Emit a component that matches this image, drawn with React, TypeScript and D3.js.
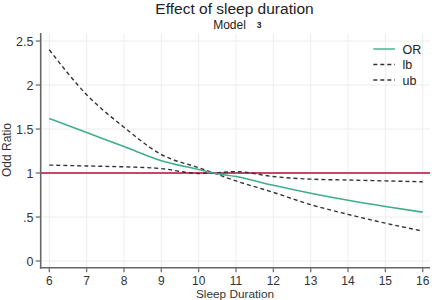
import React from "react";
import * as d3 from "d3";

const sleep = [6, 7, 8, 9, 10, 10.4, 11, 12, 13, 14, 15, 16];
const orValues = [1.62, 1.46, 1.3, 1.14, 1.04, 1.0, 0.96, 0.86, 0.77, 0.69, 0.62, 0.555];
const lbValues = [1.09, 1.08, 1.07, 1.05, 0.995, 1.0, 1.015, 0.96, 0.93, 0.92, 0.91, 0.9];
const ubValues = [2.4, 1.89, 1.52, 1.21, 1.06, 1.0, 0.91, 0.78, 0.64, 0.53, 0.43, 0.34];
const xTicks = [6, 7, 8, 9, 10, 11, 12, 13, 14, 15, 16];
const yTicks = [0, 0.5, 1, 1.5, 2, 2.5];
const yTickLabels = ["0", ".5", "1", "1.5", "2", "2.5"];
const legendItems = ["OR", "lb", "ub"];
const refValue = 1;

const W = 432;
const H = 300;
const FONT = "'Liberation Sans', Arial, sans-serif";

export default function App() {
  const x = d3.scaleLinear().domain([6, 16]).range([49.3, 422.7]);
  const y = d3.scaleLinear().domain([0, 2.5]).range([261, 41]);
  const axisX = 40.7;
  const axisY = 267.7;
  const plotTop = 33;
  const plotRight = 430;

  const line = (vals: number[]) =>
    d3
      .line<number>()
      .x((_, i) => x(sleep[i]))
      .y((v) => y(v))
      .curve(d3.curveMonotoneX)(vals) || "";

  const legendColors = ["#3fae8a", "#333", "#333"];
  const legendDash = [undefined, "4,3", "4,3"];
  const legendY = [49, 64.5, 80];

  return (
    <svg
      width={W}
      height={H}
      style={{ position: "absolute", left: 0, top: 0, background: "#fff" }}
      fontFamily={FONT}
    >
      <rect x={0} y={0} width={W} height={H} fill="#fff" />
      {/* grid */}
      {xTicks.map((t) => (
        <line key={"gx" + t} x1={x(t)} x2={x(t)} y1={plotTop} y2={axisY} stroke="#ececec" strokeWidth={1} />
      ))}
      {yTicks.map((t) => (
        <line key={"gy" + t} x1={axisX} x2={plotRight} y1={y(t)} y2={y(t)} stroke="#ececec" strokeWidth={1} />
      ))}
      {/* reference line */}
      <line x1={axisX} x2={plotRight} y1={y(refValue)} y2={y(refValue)} stroke="#cc4468" strokeWidth={2} />
      {/* series */}
      <path d={line(ubValues)} fill="none" stroke="#333" strokeWidth={1.4} strokeDasharray="4,3" />
      <path d={line(lbValues)} fill="none" stroke="#333" strokeWidth={1.4} strokeDasharray="4,3" />
      <path d={line(orValues)} fill="none" stroke="#3fae8a" strokeWidth={1.6} />
      {/* axes */}
      <line x1={axisX} x2={axisX} y1={plotTop} y2={axisY + 1} stroke="#666" strokeWidth={1.6} />
      <line x1={axisX - 0.8} x2={plotRight} y1={axisY} y2={axisY} stroke="#666" strokeWidth={1.6} />
      {yTicks.map((t, i) => (
        <g key={"ty" + t}>
          <line x1={axisX - 5} x2={axisX} y1={y(t)} y2={y(t)} stroke="#666" strokeWidth={1.2} />
          <text x={33.5} y={y(t)} dy="0.36em" textAnchor="end" fontSize={12.5} fill="#333">
            {yTickLabels[i]}
          </text>
        </g>
      ))}
      {xTicks.map((t) => (
        <g key={"tx" + t}>
          <line x1={x(t)} x2={x(t)} y1={axisY} y2={axisY + 4.5} stroke="#666" strokeWidth={1.2} />
          <text x={x(t)} y={284.5} textAnchor="middle" fontSize={12} fill="#333">
            {t}
          </text>
        </g>
      ))}
      {/* axis titles */}
      <text x={235} y={298} textAnchor="middle" fontSize={11.8} fill="#333">
        Sleep Duration
      </text>
      <text transform="translate(10.5,150) rotate(-90)" textAnchor="middle" fontSize={12} fill="#333">
        Odd Ratio
      </text>
      {/* title */}
      <text x={234.5} y={14} textAnchor="middle" fontSize={15.5} fill="#222">
        Effect of sleep duration
      </text>
      <text x={229.5} y={29} textAnchor="middle" fontSize={12} fill="#222">
        Model
      </text>
      <text x={259} y={27.5} textAnchor="middle" fontSize={8.5} fontWeight="bold" fill="#222">
        3
      </text>
      {/* legend */}
      {legendItems.map((name, i) => (
        <g key={name}>
          <line
            x1={373.3}
            x2={395}
            y1={legendY[i]}
            y2={legendY[i]}
            stroke={legendColors[i]}
            strokeWidth={1.4}
            strokeDasharray={legendDash[i]}
          />
          <text x={402.5} y={legendY[i]} dy="0.36em" fontSize={12.5} fill="#222">
            {name}
          </text>
        </g>
      ))}
    </svg>
  );
}
